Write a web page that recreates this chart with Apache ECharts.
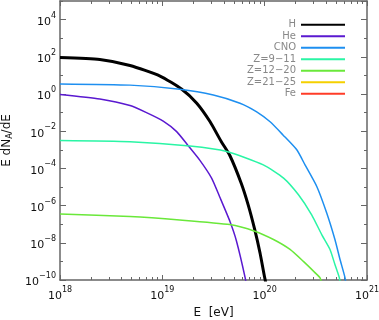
<!DOCTYPE html>
<html>
<head>
<meta charset="utf-8">
<script src="https://cdn.jsdelivr.net/npm/echarts@6/dist/echarts.min.js"></script>
<style>
  html, body { margin: 0; padding: 0; background: #fff; }
  #chart { width: 379px; height: 320px; }
</style>
</head>
<body>
<div id="chart"></div>
<script>
// energy [eV], E dN/dE
const hData = [[1e18, 93], [2.45e18, 72], [4.83e18, 34], [9.5e18, 9.2], [1.55e19, 1.8], [2.17e19, 0.32],
  [2.92e19, 0.033], [3.76e19, 2.8e-3], [4.58e19, 4.8e-4], [5.9e19, 1.6e-5], [6.9e19, 1.1e-6],
  [8.0e19, 5.1e-8], [9.0e19, 2.9e-9], [1.0e20, 1.35e-10], [1.07e20, 2.5e-11]]
const heData = [[1e18, 0.95], [2.45e18, 0.54], [4.83e18, 0.24], [7.0e18, 0.1], [1.02e19, 0.035],
  [1.38e19, 9.5e-3], [1.8e19, 1.6e-3], [2.33e19, 2.7e-4], [3.03e19, 3.0e-5], [3.63e19, 3.0e-6],
  [4.58e19, 1.4e-7], [5.3e19, 1.26e-8], [6.45e19, 1.3e-10], [6.76e19, 2.5e-11]]
const cnoData = [[1e18, 3.5], [4.83e18, 3.0], [1.48e19, 1.8], [3.15e19, 0.89], [5.74e19, 0.32],
  [8.36e19, 0.11], [1.13e20, 0.032], [1.51e20, 6.3e-3], [2.06e20, 1e-3], [2.48e20, 1.55e-4],
  [3.23e20, 1.07e-5], [4.04e20, 4e-7], [4.86e20, 1.5e-8], [5.45e20, 1.26e-9], [6.1e20, 1.3e-10], [6.3e20, 3e-11]]
const z911Data = [[1e18, 3.2e-3], [4.83e18, 2.75e-3], [1.86e19, 1.6e-3], [4.27e19, 8.1e-4],
  [9.7e19, 1.55e-4], [1.53e20, 3.0e-5], [2.14e20, 3.8e-6], [2.88e20, 3.2e-7], [3.61e20, 2.75e-8],
  [4.35e20, 4.4e-9], [4.86e20, 6.8e-10], [5.37e20, 1.3e-10], [5.62e20, 3e-11]]
const z1220Data = [[1e18, 3.5e-7], [4.83e18, 2.6e-7], [1.48e19, 1.7e-7], [4.58e19, 9.5e-8],
  [8.0e19, 4.2e-8], [1.22e20, 1.5e-8], [1.77e20, 4.4e-9], [2.39e20, 1.0e-9], [3.1e20, 2.5e-10],
  [3.48e20, 1.3e-10], [3.63e20, 5e-11]]
const z2125Data = []
const feData = []

const names = ['H', 'He', 'CNO', 'Z=9\u221211', 'Z=12\u221220', 'Z=21\u221225', 'Fe']
const colors = ['#000000', '#5a19d0', '#1e8ff0', '#2af5a5', '#6ae83a', '#f5d000', '#ff3c28']
const allData = [hData, heData, cnoData, z911Data, z1220Data, z2125Data, feData]

// minor ticks 2..9 per decade, in log10 units for the helper axes
const minorX = []
for (let n = 18; n < 21; n++) {
  for (let k = 2; k <= 9; k++) minorX.push(n + Math.log10(k))
}

const font = 'DejaVu Sans'
const frame = '#666'

function pow10(v) {
  let e = Math.round(Math.log10(v))
  return '{b|10}{s|' + String(e).replace('-', '\u2212') + '}'
}
const labelRich = {
  b: { fontSize: 11, fontFamily: font, color: '#111', lineHeight: 16, verticalAlign: 'bottom' },
  s: { fontSize: 8, fontFamily: font, color: '#111', lineHeight: 16, verticalAlign: 'top' }
}

let myChart = echarts.init(document.getElementById('chart'))

let xMain = function (pos, labels) {
  return {
    type: 'log', logBase: 10, min: 1e18, max: 1e21, interval: 1, position: pos,
    axisLine: { show: true, lineStyle: { color: frame, width: 1.5 } },
    axisTick: { show: true, inside: true, length: 5, lineStyle: { color: frame } },
    axisLabel: { show: labels, formatter: pow10, rich: labelRich, margin: 6 },
    splitLine: { show: false },
    name: labels ? 'E  [eV]' : '', nameLocation: 'middle', nameGap: 24,
    nameTextStyle: { fontFamily: font, fontSize: 12, color: '#111' }
  }
}
let xMinor = function (pos) {
  return {
    type: 'value', min: 18, max: 21, position: pos,
    axisLine: { show: false },
    axisTick: { show: true, inside: true, length: 3, customValues: minorX, lineStyle: { color: frame } },
    axisLabel: { show: false },
    splitLine: { show: false }
  }
}
let yMain = function (pos, labels) {
  return {
    type: 'log', logBase: 10, min: 1e-10, max: 1e5, interval: 2, position: pos,
    axisLine: { show: true, lineStyle: { color: frame, width: 1.5 } },
    axisTick: { show: true, inside: true, length: 6, lineStyle: { color: frame } },
    axisLabel: { show: labels, formatter: pow10, rich: labelRich, margin: 4, showMaxLabel: false },
    splitLine: { show: false },
    name: labels ? 'E dN{sub|A}/dE' : '', nameLocation: 'middle', nameGap: 44, nameRotate: 90,
    nameTextStyle: {
      fontFamily: font, fontSize: 12, color: '#111',
      rich: { sub: { fontSize: 8, fontFamily: font, color: '#111', verticalAlign: 'bottom', lineHeight: 14 } }
    }
  }
}
let yMinor = function (pos) {
  return {
    type: 'log', logBase: 10, min: 1e-10, max: 1e5, interval: 1, position: pos,
    axisLine: { show: false },
    axisTick: { show: true, inside: true, length: 3, lineStyle: { color: frame } },
    axisLabel: { show: false },
    splitLine: { show: false }
  }
}

myChart.setOption({
  animation: false,
  grid: { left: 60, right: 12, top: 1, bottom: 40, containLabel: false, outerBoundsMode: 'none' },
  legend: {
    orient: 'vertical', right: 29, top: 14, align: 'right',
    icon: 'rect', itemWidth: 44, itemHeight: 2, itemGap: 0,
    textStyle: { fontFamily: font, fontSize: 10, color: '#888', lineHeight: 11.5 },
    data: names
  },
  xAxis: [xMain('bottom', true), xMinor('bottom'), xMain('top', false), xMinor('top')],
  yAxis: [yMain('left', true), yMinor('left'), yMain('right', false), yMinor('right')],
  series: names.map(function (n, i) {
    return {
      name: n, type: 'line', xAxisIndex: 0, yAxisIndex: 0,
      data: allData[i], symbol: 'none', smooth: 0.2,
      lineStyle: { color: colors[i], width: i === 0 ? 3 : 1.5 },
      itemStyle: { color: colors[i] }
    }
  })
})
</script>
</body>
</html>
